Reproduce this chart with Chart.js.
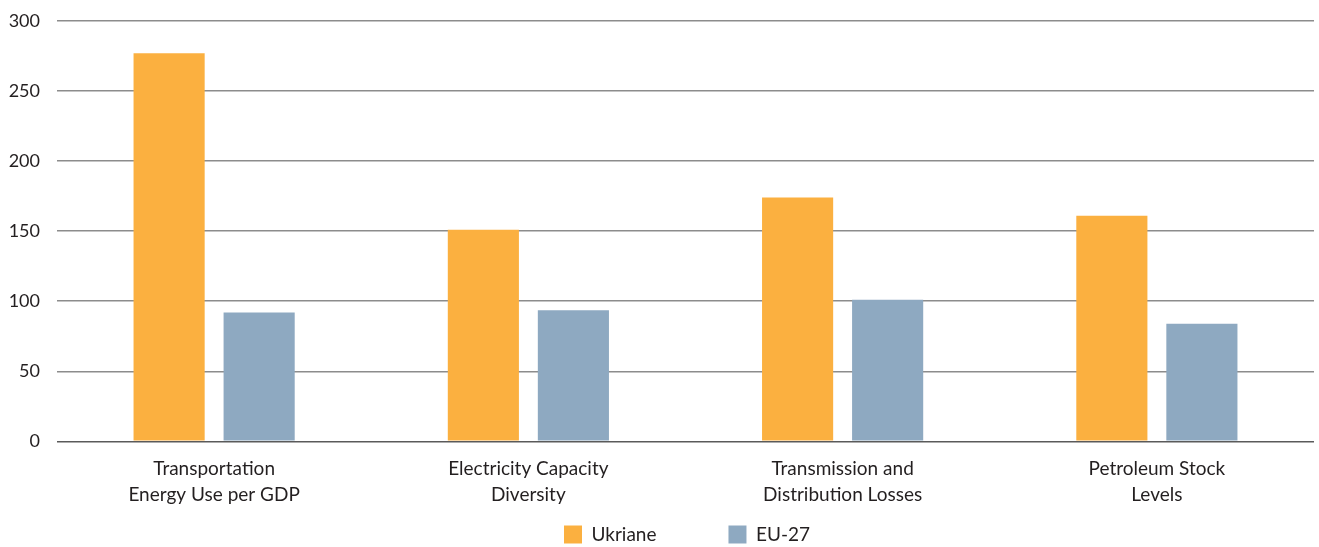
<!DOCTYPE html>
<html>
<head>
<meta charset="utf-8">
<script src="https://cdn.jsdelivr.net/npm/chart.js@4"></script>
<style>
  html, body { margin: 0; padding: 0; background: #fff; }
  #wrap { width: 1319px; height: 547px; }
</style>
</head>
<body>
<div id="wrap"><canvas id="plots" width="1319" height="547"></canvas></div>
<script>
// categories and values
var categories = [
  ["Transportation", "Energy Use per GDP"],
  ["Electricity Capacity", "Diversity"],
  ["Transmission and", "Distribution Losses"],
  ["Petroleum Stock", "Levels"]
];
var ukraine = [277, 151, 174, 161];
var eu27 = [92, 93.5, 101, 84];
var yTicks = [0, 50, 100, 150, 200, 250, 300];

var legendGap = 72;

Chart.defaults.font.family = "Lato, 'Open Sans', sans-serif";
Chart.defaults.color = "#231f20";

// keep the wide legend gap without letting it eat the plot height
var legendPlacer = {
  id: 'legendPlacer',
  beforeLayout: function (chart) {
    var lg = chart.legend;
    if (lg && !lg._patched) {
      var orig = lg.fit;
      lg.fit = function () { orig.call(this); this.height = 32; };
      lg._patched = true;
    }
  },
  afterLayout: function (chart) {
    var lg = chart.legend;
    lg.top = lg.bottom - legendGap - 22;
    lg.left += 30;
    lg.right += 30;
  }
};

new Chart(document.getElementById("plots"), {
  type: 'bar',
  plugins: [legendPlacer],
  data: {
    labels: categories,
    datasets: [{
        label: 'Ukriane',
        data: ukraine,
        backgroundColor: '#fbb040',
        borderWidth: 0
      },
      {
        label: 'EU-27',
        data: eu27,
        backgroundColor: '#8ea9c1',
        borderWidth: 0
      }
    ]
  },
  options: {
    responsive: false,
    animation: false,
    categoryPercentage: 0.573,
    barPercentage: 0.79,
    layout: { padding: { top: 21, right: 5, left: 0, bottom: 0 } },
    plugins: {
      tooltip: { enabled: false },
      legend: {
        position: 'bottom',
        labels: {
          boxWidth: 18,
          boxHeight: 18,
          padding: legendGap,
          font: { size: 19 }
        }
      }
    },
    scales: {
      x: {
        grid: { display: false },
        border: { display: false },
        ticks: { font: { size: 19, lineHeight: 1.36 }, padding: 7, maxRotation: 0 },
        afterFit: function (axis) { axis.paddingLeft = 0; axis.paddingRight = 0; }
      },
      y: {
        min: 0,
        max: 300,
        afterBuildTicks: function (axis) {
          axis.ticks = yTicks.map(function (v) { return { value: v }; });
        },
        afterFit: function (axis) { axis.width = 57; axis.paddingTop = 0; axis.paddingBottom = 0; },
        grid: {
          color: function (ctx) { return ctx.tick && ctx.tick.value === 0 ? '#5a5a5a' : '#8c8c8c'; },
          lineWidth: 1.5,
          drawTicks: false
        },
        border: { display: false },
        ticks: { font: { size: 18 }, padding: 17 }
      }
    }
  }
});
</script>
</body>
</html>
